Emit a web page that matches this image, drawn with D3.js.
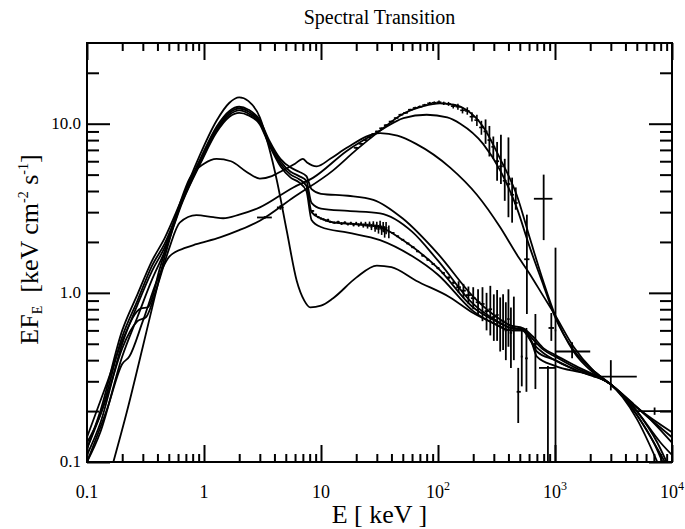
<!DOCTYPE html>
<html>
<head>
<meta charset="utf-8">
<script src="https://cdn.jsdelivr.net/npm/d3@7"></script>
<style>
  body { margin: 0; background: #fff; }
  svg text { font-family: "Liberation Serif", "Times New Roman", Times, serif; fill: #000; }
</style>
</head>
<body>
<script>
// ---- tick values / labels ----
var xMajor = [0.1, 1, 10, 100, 1000, 10000];
var xLabels = [["0.1", ""], ["1", ""], ["10", ""], ["10", "2"], ["10", "3"], ["10", "4"]];
var yMajor = [0.1, 1, 10];
var yLabels = ["0.1", "1.0", "10.0"];

// ---- model curves, [E keV, EF_E] ----
var softPeak = [[0.168,0.1],[0.22,0.2],[0.3,0.48],[0.38,0.95],[0.46,1.62],[0.66,3.66],[0.93,6.6],[1.28,10.4],[1.65,13.3],[2.0,14.3],[2.4,13.6],[3.0,10.9],[3.6,7.2],[4.2,4.6],[5.1,2.32],[6.2,1.18],[7.2,0.9],[8.1,0.82],[10,0.84],[12.7,0.93],[20,1.23],[30,1.45],[40,1.42],[65,1.18],[127,0.94],[200,0.76],[300,0.66],[420,0.6],[530,0.6],[620,0.53],[700,0.42],[1000,0.37],[1900,0.33],[2950,0.29],[5000,0.19],[7000,0.13],[8300,0.1]];
var softA = [[0.1,0.12],[0.13,0.2],[0.2,0.6],[0.27,0.98],[0.36,1.55],[0.46,2.1],[0.66,3.7],[0.93,6.2],[1.28,9.6],[1.65,11.9],[2.0,12.6],[2.4,12.1],[3.0,10.5],[3.6,8.0],[4.5,6.2],[5.5,5.5],[6.5,5.2],[7.5,4.9],[8.3,4.1],[10,3.85],[17,3.75],[28,3.55],[50,2.75],[100,1.7],[200,0.95],[300,0.74],[420,0.64],[530,0.62],[650,0.55],[800,0.47],[1000,0.43],[1500,0.37],[2950,0.29],[5000,0.21],[10000,0.15]];
var softB = [[0.1,0.11],[0.13,0.17],[0.2,0.5],[0.27,0.85],[0.36,1.35],[0.46,1.85],[0.66,3.6],[0.93,6.0],[1.28,9.3],[1.65,11.6],[2.0,12.3],[2.4,11.8],[3.0,10.3],[3.6,7.8],[4.5,6.0],[5.5,5.2],[6.5,4.9],[7.5,4.6],[8.3,3.4],[10,3.15],[17,3.05],[32,2.95],[60,2.3],[100,1.55],[200,0.86],[300,0.7],[420,0.62],[530,0.61],[650,0.53],[800,0.46],[1000,0.42],[1500,0.36],[2950,0.29],[5000,0.2],[8000,0.13],[10000,0.11]];
var softC = [[0.1,0.13],[0.13,0.19],[0.2,0.55],[0.27,0.9],[0.36,1.45],[0.46,1.95],[0.66,3.55],[0.93,5.9],[1.28,9.1],[1.65,11.3],[2.0,12.0],[2.4,11.5],[3.0,10.1],[3.6,7.6],[4.5,5.8],[5.5,5.0],[6.5,4.7],[7.5,4.3],[8.3,3.0],[10,2.75],[13,2.6],[20,2.55],[32,2.45],[50,2.05],[100,1.4],[200,0.82],[300,0.69],[420,0.62],[530,0.6],[620,0.52],[700,0.45],[1000,0.4],[1500,0.35],[2950,0.29],[5000,0.18],[7500,0.1]];
var softD = [[0.1,0.1],[0.13,0.15],[0.2,0.42],[0.27,0.72],[0.36,1.2],[0.46,1.75],[0.66,3.5],[0.93,5.8],[1.28,8.9],[1.65,11.0],[2.0,11.6],[2.4,11.2],[3.0,9.9],[3.6,7.5],[4.5,5.6],[5.5,4.8],[6.5,4.5],[7.5,4.0],[8.3,2.7],[10,2.45],[17,2.27],[32,2.05],[60,1.65],[100,1.28],[200,0.78],[300,0.66],[420,0.6],[530,0.6],[650,0.5],[800,0.44],[1000,0.4],[1500,0.35],[2950,0.29],[5000,0.19],[7000,0.13],[8700,0.1]];
var hardA = [[0.1,0.1],[0.15,0.21],[0.2,0.38],[0.23,0.42],[0.3,0.68],[0.4,1.2],[0.51,1.65],[0.7,1.85],[0.86,1.94],[1.37,2.13],[2,2.35],[3,2.67],[5.8,3.66],[12.7,5.3],[20,7.0],[32,9.1],[50,11.4],[75,12.7],[104,13.2],[140,12.9],[177,12.0],[243,9.6],[340,6.2],[470,3.8],[610,2.1],[800,1.15],[1000,0.74],[1440,0.45],[2100,0.34],[2950,0.29],[4700,0.22],[7000,0.17],[10000,0.13]];
var hardB = [[0.1,0.12],[0.15,0.25],[0.2,0.47],[0.27,0.68],[0.32,0.72],[0.4,1.1],[0.5,1.8],[0.62,2.6],[0.86,2.88],[1.2,2.8],[1.46,2.76],[2,2.9],[3,3.2],[5.8,4.2],[8.6,4.8],[16.6,6.9],[32,9.1],[50.7,10.8],[80,11.3],[120,10.9],[155,10.0],[243,7.6],[340,5.3],[470,3.2],[610,1.85],[800,1.1],[1000,0.72],[1440,0.46],[2100,0.35],[2950,0.29],[5000,0.21],[10000,0.14]];
var hardMid = [[0.1,0.14],[0.15,0.3],[0.2,0.52],[0.29,0.81],[0.33,0.82],[0.42,1.4],[0.55,2.6],[0.76,4.8],[1.0,5.8],[1.28,6.2],[1.7,6.0],[2.3,5.2],[3.0,4.74],[3.8,4.9],[4.5,5.2],[6,5.8],[7,6.2],[7.6,5.9],[9.2,5.6],[12,6.2],[16.6,7.2],[32,8.8],[45,8.5],[65,7.6],[127,5.5],[215,3.8],[340,2.44],[470,1.69],[610,1.29],[800,0.95],[1000,0.74],[1440,0.48],[2100,0.35],[2950,0.29],[5000,0.2],[7500,0.13],[9000,0.1]];

// ---- data points ----
// dense bins: [E, F, dF]
var hardDense = [[20,7.2,0.1],[22,7.6,0.1],[24,8.0,0.1],[26,8.3,0.1],[28,8.7,0.1],[30,9.0,0.1],[33,9.4,0.1],[36,9.8,0.12],[40,10.3,0.12],[44,10.8,0.12],[48,11.3,0.15],[53,11.6,0.15],[58,12.1,0.15],[64,12.4,0.2],[70,12.6,0.2],[77,12.9,0.2],[85,13.2,0.25],[93,13.3,0.25],[102,13.4,0.3],[112,13.2,0.3],[123,13.1,0.35],[135,12.7,0.4],[148,12.6,0.5],[162,12.0,0.5],[178,11.9,0.6],[195,11.0,0.7],[215,10.5,0.8],[235,9.5,0.9]];
var softDense = [[8.5,3.05,0.04],[9,2.9,0.04],[9.5,2.8,0.04],[10,2.75,0.04],[10.5,2.72,0.04],[11,2.68,0.04],[11.5,2.7,0.04],[12,2.63,0.04],[13,2.6,0.04],[14,2.62,0.05],[15,2.57,0.05],[16,2.6,0.05],[17,2.55,0.05],[18,2.58,0.05],[19,2.53,0.06],[20,2.57,0.06],[21,2.52,0.06],[22,2.56,0.07],[23,2.5,0.07],[24,2.55,0.08],[25,2.48,0.08],[26,2.55,0.09],[27,2.45,0.1],[28,2.55,0.1],[29,2.42,0.12],[30,2.5,0.13],[31,2.38,0.14],[32,2.52,0.15],[33,2.35,0.15],[34,2.45,0.17],[35,2.3,0.18],[36,2.42,0.2],[38,2.3,0.2]];
// wide bins: [E, F, Flo, Fhi, Elo, Ehi]
var softDash = [[41,2.26,2.24,2.28,40,42.5],[45,2.16,2.14,2.18,44,46.5],[50,2.06,2.04,2.08,48.5,51.5],[55,1.96,1.94,1.98,53.5,57],[61,1.86,1.84,1.88,59,63],[67,1.76,1.74,1.78,65,69],[74,1.66,1.64,1.68,72,76.5],[82,1.57,1.55,1.59,79.5,84.5],[91,1.48,1.46,1.5,88,94],[100,1.4,1.38,1.42,97,103],[111,1.31,1.29,1.33,107.5,114.5],[123,1.23,1.21,1.25,119,127],[136,1.15,1.13,1.17,132,140]];
var softSparse = [[150,1.08,1.0,1.17,143,157],[165,1.03,0.93,1.13,157,173],[182,0.97,0.86,1.09,173,191],[200,0.93,0.8,1.08,191,210],[220,0.88,0.73,1.05,210,230],[240,0.86,0.68,1.08,230,250],[260,0.78,0.6,1.0,250,270],[280,0.8,0.56,1.1,270,290],[300,0.72,0.52,0.98,290,310],[320,0.74,0.52,1.04,310,330],[340,0.66,0.45,0.94,330,350],[360,0.68,0.46,0.98,350,370],[380,0.6,0.4,0.88,370,390],[400,0.7,0.48,1.05,390,410],[420,0.58,0.36,0.82,410,430],[445,0.62,0.4,0.95,430,460],[485,0.26,0.17,0.36,470,510],[520,0.42,0.28,0.62,510,530],[570,0.41,0.26,0.62,555,585],[680,0.5,0.27,0.75,660,700],[930,0.62,0.52,0.76,880,980]];
var hardSparse = [[3.3,2.79,2.74,2.84,2.84,3.8],[4.5,3.2,3.1,3.3,4.2,4.8],[255,9.0,7.6,10.6,245,265],[275,8.0,6.4,9.7,265,286],[297,7.3,6.2,8.4,286,308],[320,6.0,4.6,7.8,308,333],[345,5.6,4.4,8.6,333,358],[372,4.6,3.5,6.2,358,386],[400,4.4,2.8,8.3,386,415],[430,3.8,2.6,4.8,415,446],[462,3.4,3.1,4.2,446,480],[575,1.58,0.75,2.9,545,605],[800,3.6,2.05,5.0,660,950],[870,0.36,0.1,0.37,730,1000],[1010,0.6,0.1,1.85,995,1025],[1400,0.45,0.41,0.51,1000,2000],[3000,0.32,0.265,0.4,2130,5000],[7100,0.2,0.19,0.21,5000,10000]];

var serif = "'Liberation Serif', 'Times New Roman', Times, serif";

function makeChart() {
    var svgWidth = 685;
    var svgHeight = 529;

    var margin = {
        top: 43,
        right: 13,
        bottom: 67,
        left: 87
    };

    var width = svgWidth - margin.left - margin.right;
    var height = svgHeight - margin.top - margin.bottom;

    var svg = d3.select("body")
        .append("svg")
        .attr("width", svgWidth)
        .attr("height", svgHeight)
        .attr("font-family", serif);

    var chartGroup = svg.append("g").attr("transform", `translate(${margin.left}, ${margin.top})`);

    // log scales
    var x = d3.scaleLog().domain([0.1, 1e4]).range([0, width]);
    var y = d3.scaleLog().domain([0.1, 30]).range([height, 0]);

    // minor tick positions
    var xMinor = [];
    xMajor.slice(0, -1).forEach(function(d) {
        for (var k = 2; k <= 9; k++) xMinor.push(d * k);
    });
    var yMinor = [];
    [0.1, 1].forEach(function(d) {
        for (var k = 2; k <= 9; k++) yMinor.push(d * k);
    });
    yMinor.push(20);

    function styleAxis(g) {
        g.select(".domain").remove();
        g.selectAll(".tick line").attr("stroke", "#000").attr("stroke-width", 2);
        g.selectAll(".tick text").remove();
    }

    // ticks on all four sides, pointing inward
    chartGroup.append("g").attr("transform", `translate(0, ${height})`)
        .call(d3.axisBottom(x).tickValues(xMajor).tickSize(-17)).call(styleAxis);
    chartGroup.append("g").attr("transform", `translate(0, ${height})`)
        .call(d3.axisBottom(x).tickValues(xMinor).tickSize(-8)).call(styleAxis);
    chartGroup.append("g")
        .call(d3.axisTop(x).tickValues(xMajor).tickSize(-17)).call(styleAxis);
    chartGroup.append("g")
        .call(d3.axisTop(x).tickValues(xMinor).tickSize(-8)).call(styleAxis);
    chartGroup.append("g")
        .call(d3.axisLeft(y).tickValues(yMajor).tickSize(-23)).call(styleAxis);
    chartGroup.append("g")
        .call(d3.axisLeft(y).tickValues(yMinor).tickSize(-12)).call(styleAxis);
    chartGroup.append("g").attr("transform", `translate(${width}, 0)`)
        .call(d3.axisRight(y).tickValues(yMajor).tickSize(-23)).call(styleAxis);
    chartGroup.append("g").attr("transform", `translate(${width}, 0)`)
        .call(d3.axisRight(y).tickValues(yMinor).tickSize(-12)).call(styleAxis);

    // tick labels
    chartGroup.selectAll(".ylab")
        .data(yMajor)
        .enter()
        .append("text")
        .attr("class", "ylab")
        .attr("x", -6)
        .attr("y", d => y(d))
        .attr("dy", "0.32em")
        .attr("text-anchor", "end")
        .attr("font-family", serif)
        .attr("font-size", 17)
        .text((d, i) => yLabels[i]);

    var xl = chartGroup.selectAll(".xlab")
        .data(xMajor)
        .enter()
        .append("text")
        .attr("class", "xlab")
        .attr("x", d => x(d))
        .attr("y", height + 36)
        .attr("text-anchor", "middle")
        .attr("font-family", serif)
        .attr("font-size", 18);
    xl.append("tspan").text((d, i) => xLabels[i][0]);
    xl.append("tspan").attr("dy", -8).attr("font-size", 12).text((d, i) => xLabels[i][1]);

    // clip to frame
    chartGroup.append("clipPath").attr("id", "plotClip")
        .append("rect").attr("width", width).attr("height", height);
    var plot = chartGroup.append("g").attr("clip-path", "url(#plotClip)");

    // model curves
    var line = d3.line()
        .x(d => x(d[0]))
        .y(d => y(d[1]))
        .curve(d3.curveMonotoneX);

    var curves = [softPeak, softA, softB, softC, softD, hardA, hardB, hardMid];
    plot.selectAll(".model")
        .data(curves)
        .enter()
        .append("path")
        .attr("class", "model")
        .attr("d", line)
        .attr("fill", "none")
        .attr("stroke", "#000")
        .attr("stroke-width", 1.8);

    // dense data: vertical error + bin to neighbours
    function drawDense(data) {
        var g = plot.append("g").attr("stroke", "#000").attr("stroke-width", 1.6);
        data.forEach(function(d, i) {
            var prev = i > 0 ? data[i - 1][0] : d[0] * d[0] / data[i + 1][0];
            var next = i < data.length - 1 ? data[i + 1][0] : d[0] * d[0] / data[i - 1][0];
            var lo = Math.sqrt(prev * d[0]);
            var hi = Math.sqrt(next * d[0]);
            g.append("line")
                .attr("x1", x(d[0])).attr("x2", x(d[0]))
                .attr("y1", y(d[1] - d[2])).attr("y2", y(d[1] + d[2]));
            g.append("line")
                .attr("x1", x(lo)).attr("x2", x(hi))
                .attr("y1", y(d[1])).attr("y2", y(d[1]));
        });
    }

    function drawBars(data) {
        var g = plot.append("g").attr("stroke", "#000").attr("stroke-width", 1.8);
        g.selectAll(".v")
            .data(data)
            .enter()
            .append("line")
            .attr("x1", d => x(d[0])).attr("x2", d => x(d[0]))
            .attr("y1", d => y(d[2])).attr("y2", d => y(d[3]));
        g.selectAll(".h")
            .data(data)
            .enter()
            .append("line")
            .attr("x1", d => x(d[4])).attr("x2", d => x(d[5]))
            .attr("y1", d => y(d[1])).attr("y2", d => y(d[1]));
    }

    drawDense(hardDense);
    drawDense(softDense);
    drawBars(softDash);
    drawBars(softSparse);
    drawBars(hardSparse);

    // frame
    chartGroup.append("rect")
        .attr("width", width)
        .attr("height", height)
        .attr("fill", "none")
        .attr("stroke", "#000")
        .attr("stroke-width", 2);

    // title and axis labels
    svg.append("text")
        .attr("x", margin.left + width / 2)
        .attr("y", 24)
        .attr("text-anchor", "middle")
        .attr("font-family", serif)
        .attr("font-size", 20)
        .text("Spectral Transition");

    svg.append("text")
        .attr("x", margin.left + width / 2)
        .attr("y", 523)
        .attr("text-anchor", "middle")
        .attr("font-family", serif)
        .attr("font-size", 26)
        .text("E [ keV ]");

    var yt = svg.append("text")
        .attr("transform", `translate(38, ${margin.top + height / 2 - 3}) rotate(-90)`)
        .attr("text-anchor", "middle")
        .attr("font-family", serif)
        .attr("font-size", 26);
    yt.append("tspan").text("EF");
    yt.append("tspan").attr("font-size", 14).attr("dy", 4).text("E");
    yt.append("tspan").attr("dy", -4).text("\u00a0 [keV cm");
    yt.append("tspan").attr("font-size", 14).attr("dy", -10).text("-2");
    yt.append("tspan").attr("dy", 10).text(" s");
    yt.append("tspan").attr("font-size", 14).attr("dy", -10).text("-1");
    yt.append("tspan").attr("dy", 10).text("]");
}

makeChart();
</script>
</body>
</html>
